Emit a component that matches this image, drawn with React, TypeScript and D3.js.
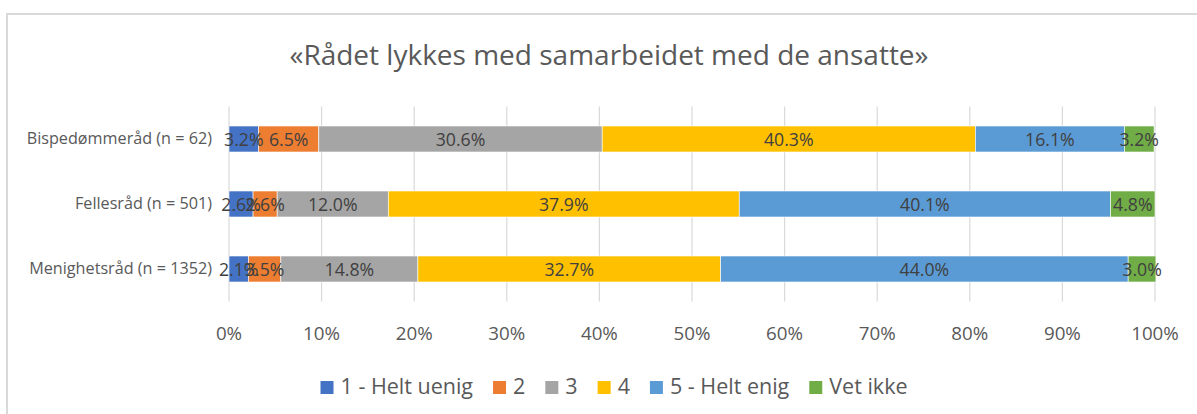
import React, { useEffect, useRef } from "react";
import * as d3 from "d3";

const TITLE = "«Rådet lykkes med samarbeidet med de ansatte»";
const categories = ["Bispedømmeråd (n = 62)", "Fellesråd (n = 501)", "Menighetsråd (n = 1352)"];
const seriesNames = ["1 - Helt uenig", "2", "3", "4", "5 - Helt enig", "Vet ikke"];
const seriesColors = ["#4472C4", "#ED7D31", "#A5A5A5", "#FFC000", "#5B9BD5", "#70AD47"];
const helUenig = [3.2, 2.6, 2.1];
const s2 = [6.5, 2.6, 3.5];
const s3 = [30.6, 12.0, 14.8];
const s4 = [40.3, 37.9, 32.7];
const helEnig = [16.1, 40.1, 44.0];
const vetIkke = [3.2, 4.8, 3.0];
const xTicks = [0, 10, 20, 30, 40, 50, 60, 70, 80, 90, 100];

const W = 1197;
const H = 414;
const FONT = "'Open Sans', sans-serif";

export default function App() {
  const ref = useRef<SVGSVGElement | null>(null);
  useEffect(() => {
    const svg = d3.select(ref.current);
    svg.selectAll("*").remove();
    const values = [helUenig, s2, s3, s4, helEnig, vetIkke];

    // chart border
    svg.append("rect").attr("x", 7).attr("y", 14).attr("width", 1230).attr("height", 420)
      .attr("fill", "#fff").attr("stroke", "#d9d9d9").attr("stroke-width", 2);

    svg.append("text").attr("x", 609).attr("y", 65).attr("text-anchor", "middle")
      .attr("font-family", FONT).attr("font-size", 28).attr("fill", "#595959").text(TITLE);

    const x = d3.scaleLinear().domain([0, 100]).range([229, 1155]);
    const y = d3.scaleBand().domain(categories).range([106.5, 301.5]).paddingInner(0.6).paddingOuter(0.3);

    // gridlines
    svg.append("g").selectAll("line").data(xTicks).join("line")
      .attr("x1", (d) => x(d)).attr("x2", (d) => x(d)).attr("y1", 106.5).attr("y2", 301.5)
      .attr("stroke", "#d9d9d9").attr("stroke-width", 1.2);

    // tick labels
    svg.append("g").selectAll("text").data(xTicks).join("text")
      .attr("x", (d) => x(d)).attr("y", 340).attr("text-anchor", "middle")
      .attr("font-family", FONT).attr("font-size", 18.75).attr("fill", "#595959")
      .text((d) => `${d}%`);

    // category labels
    svg.append("g").selectAll("text").data(categories).join("text")
      .attr("x", 212).attr("y", (d) => (y(d) as number) + y.bandwidth() / 2 + 5)
      .attr("text-anchor", "end").attr("font-family", FONT).attr("font-size", 16.2).attr("fill", "#595959")
      .text((d) => d);

    const rows = categories.map((c, i) => {
      const r: any = { cat: c };
      seriesNames.forEach((s, j) => (r[s] = values[j][i]));
      return r;
    });
    const stacked = d3.stack().keys(seriesNames)(rows);

    stacked.forEach((layer, j) => {
      const g = svg.append("g");
      g.selectAll("rect").data(layer).join("rect")
        .attr("x", (d) => x(d[0])).attr("width", (d) => x(d[1]) - x(d[0]))
        .attr("y", (d: any) => y(d.data.cat) as number).attr("height", y.bandwidth())
        .attr("fill", seriesColors[j]).attr("stroke", "#fff").attr("stroke-width", 0.6);
    });
    stacked.forEach((layer) => {
      svg.append("g").selectAll("text").data(layer).join("text")
        .attr("x", (d) => (x(d[0]) + x(d[1])) / 2)
        .attr("y", (d: any) => (y(d.data.cat) as number) + y.bandwidth() / 2 + 6.5)
        .attr("text-anchor", "middle").attr("font-family", FONT).attr("font-size", 17.7).attr("fill", "#404040")
        .text((d) => `${(d[1] - d[0]).toFixed(1)}%`);
    });

    // legend
    const lg = svg.append("g");
    const items = seriesNames.map((s, i) => {
      const gi = lg.append("g");
      gi.append("rect").attr("x", 0).attr("y", 381).attr("width", 13).attr("height", 13).attr("fill", seriesColors[i]);
      const t = gi.append("text").attr("x", 20).attr("y", 394).attr("font-family", FONT).attr("font-size", 21.5)
        .attr("fill", "#595959").text(s);
      const w = (t.node() as SVGTextElement).getComputedTextLength();
      return { gi, w: 20 + w };
    });
    const gap = 20;
    const total = items.reduce((a, b) => a + b.w, 0) + gap * (items.length - 1);
    let cx = 614 - total / 2;
    items.forEach((it) => {
      it.gi.attr("transform", `translate(${cx},0)`);
      cx += it.w + gap;
    });
  }, []);
  return (
    <svg ref={ref} width={W} height={H} style={{ display: "block", position: "absolute", left: 0, top: 0 }} />
  );
}
